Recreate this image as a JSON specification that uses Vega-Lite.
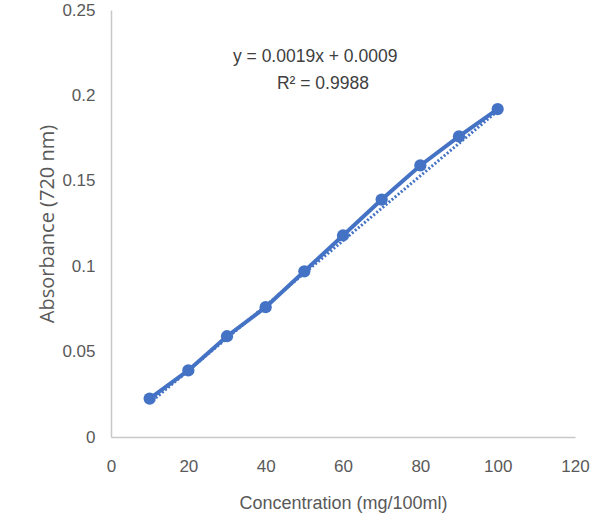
{
  "$schema": "https://vega.github.io/schema/vega-lite/v6.json",
  "autosize": {"type": "none"},
  "width": 464,
  "height": 427,
  "padding": {"left": 111, "top": 10, "right": 23, "bottom": 78},
  "config": {
    "view": {"stroke": null},
    "font": "Liberation Sans",
    "axis": {
      "grid": false,
      "ticks": false,
      "labelFlush": false,
      "labelOverlap": false,
      "domainColor": "#c8c8c8",
      "domainWidth": 1.5,
      "labelColor": "#595959",
      "labelFontSize": 17,
      "titleColor": "#595959",
      "titleFontWeight": "normal",
      "labelFont": "Liberation Sans"
    }
  },
  "datasets": {
    "obs": [
      {"conc": 10, "abs": 0.0225},
      {"conc": 20, "abs": 0.039},
      {"conc": 30, "abs": 0.059},
      {"conc": 40, "abs": 0.076},
      {"conc": 50, "abs": 0.097},
      {"conc": 60, "abs": 0.118},
      {"conc": 70, "abs": 0.139},
      {"conc": 80, "abs": 0.159},
      {"conc": 90, "abs": 0.176},
      {"conc": 100, "abs": 0.192}
    ],
    "trend": [
      {"conc": 10, "abs": 0.0199},
      {"conc": 100, "abs": 0.1909}
    ],
    "labels": [
      {"conc": 52.8, "abs": 0.2225, "text": "y = 0.0019x + 0.0009"},
      {"conc": 54.8, "abs": 0.2065, "text": "R² = 0.9988"}
    ]
  },
  "layer": [
    {
      "data": {"name": "trend"},
      "mark": {"type": "line", "color": "#4472C4", "strokeWidth": 3, "strokeDash": [2, 2]},
      "encoding": {
        "x": {"field": "conc", "type": "quantitative", "scale": {"domain": [0, 120], "nice": false},
          "axis": {"values": [0, 20, 40, 60, 80, 100, 120], "title": "Concentration (mg/100ml)", "labelPadding": 21, "titlePadding": 20, "titleFont": "Liberation Sans", "titleFontSize": 18}},
        "y": {"field": "abs", "type": "quantitative", "scale": {"domain": [0, 0.25], "nice": false},
          "axis": {"values": [0, 0.05, 0.1, 0.15, 0.2, 0.25], "labelExpr": "'' + datum.value", "title": "Absorbance (720 nm)", "labelPadding": 16, "titlePadding": 4, "titleFont": "Open Sans", "titleFontSize": 20}}
      }
    },
    {
      "data": {"name": "obs"},
      "mark": {"type": "line", "color": "#4472C4", "strokeWidth": 4, "point": {"filled": true, "size": 150, "color": "#4472C4", "opacity": 1}},
      "encoding": {
        "x": {"field": "conc", "type": "quantitative"},
        "y": {"field": "abs", "type": "quantitative"}
      }
    },
    {
      "data": {"name": "labels"},
      "mark": {"type": "text", "fontSize": 17.5, "color": "#404040", "font": "Liberation Sans"},
      "encoding": {
        "x": {"field": "conc", "type": "quantitative"},
        "y": {"field": "abs", "type": "quantitative"},
        "text": {"field": "text"}
      }
    }
  ]
}
